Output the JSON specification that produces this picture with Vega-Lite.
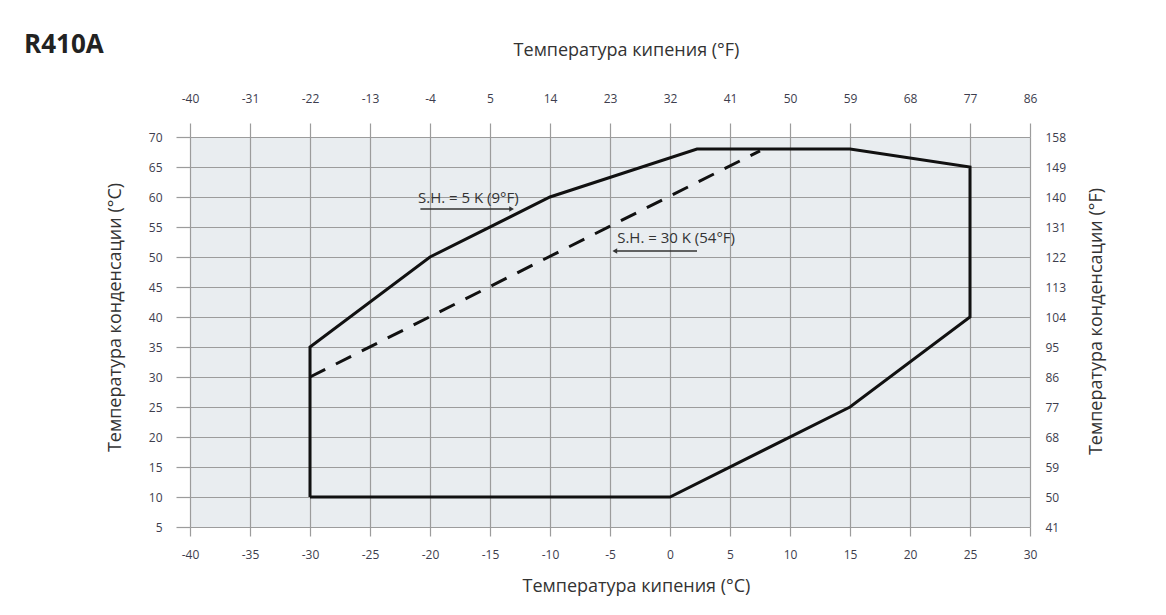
{
  "$schema": "https://vega.github.io/schema/vega-lite/v6.json",
  "width": 840,
  "height": 390,
  "autosize": {"type": "none"},
  "padding": {"left": 190, "top": 137, "right": 136, "bottom": 88},
  "background": "white",
  "title": {
    "text": "R410A",
    "anchor": "start",
    "frame": "group",
    "font": "Open Sans",
    "fontSize": 26,
    "fontWeight": "bold",
    "color": "#222222",
    "dx": -166,
    "dy": 21
  },
  "config": {
    "view": {"fill": "#e9edf0", "stroke": null},
    "axis": {
      "labelFont": "Open Sans",
      "labelFontSize": 12,
      "labelColor": "#3d3d4d",
      "titleFont": "Open Sans",
      "titleFontSize": 18,
      "titleFontWeight": "normal",
      "titleColor": "#333333",
      "domain": false,
      "gridColor": "#9c9c9c",
      "gridOpacity": 1,
      "gridWidth": 1.2,
      "tickColor": "#9c9c9c",
      "tickWidth": 1.2,
      "labelExpr": "'' + datum.value"
    }
  },
  "datasets": {
    "envelope": [
      {"ord": 1, "t": -30, "c": 10},
      {"ord": 2, "t": 0, "c": 10},
      {"ord": 3, "t": 15, "c": 25},
      {"ord": 4, "t": 25, "c": 40},
      {"ord": 5, "t": 25, "c": 65},
      {"ord": 6, "t": 15, "c": 68},
      {"ord": 7, "t": 2.25, "c": 68},
      {"ord": 8, "t": -10, "c": 60},
      {"ord": 9, "t": -20, "c": 50},
      {"ord": 10, "t": -30, "c": 35},
      {"ord": 11, "t": -30, "c": 10}
    ],
    "sh30": [
      {"ord": 1, "t": -30, "c": 30},
      {"ord": 2, "t": 7.5, "c": 67.7}
    ],
    "labels": [
      {"t": -21, "c": 59.8, "text": "S.H. = 5 K (9°F)"},
      {"t": -4.4, "c": 53.2, "text": "S.H. = 30 K (54°F)"}
    ],
    "arrows": [
      {"t": -20.8, "t2": -13.2, "c": 58, "head": -13.2, "shape": "triangle-right"},
      {"t": -4.6, "t2": 2.25, "c": 51, "head": -4.6, "shape": "triangle-left"}
    ],
    "fahrenheit": [
      {"tf": -40, "cf": 41},
      {"tf": 86, "cf": 158}
    ]
  },
  "layer": [
    {
      "layer": [
        {
          "data": {"name": "envelope"},
          "mark": {"type": "line", "color": "#111111", "strokeWidth": 3, "strokeJoin": "miter"},
          "encoding": {
            "x": {
              "field": "t", "type": "quantitative",
              "scale": {"domain": [-40, 30], "nice": false, "zero": false},
              "axis": {
                "orient": "bottom",
                "title": "Температура кипения (°C)",
                "values": [-40, -35, -30, -25, -20, -15, -10, -5, 0, 5, 10, 15, 20, 25, 30],
                "tickCount": 30,
                "tickSize": 9,
                "labelPadding": 13,
                "titlePadding": 17,
                "labelFlush": false,
                "labelOverlap": false,
                "titleX": 446
              }
            },
            "y": {
              "field": "c", "type": "quantitative",
              "scale": {"domain": [5, 70], "nice": false, "zero": false},
              "axis": {
                "orient": "left",
                "title": "Температура конденсации (°C)",
                "values": [5, 10, 15, 20, 25, 30, 35, 40, 45, 50, 55, 60, 65, 70],
                "tickCount": 30,
                "tickSize": 14,
                "labelPadding": 14,
                "titlePadding": 24,
                "labelFlush": false,
                "labelOverlap": false,
                "titleY": 180
              }
            },
            "order": {"field": "ord", "type": "quantitative"}
          }
        },
        {
          "data": {"name": "sh30"},
          "mark": {"type": "line", "color": "#111111", "strokeWidth": 3, "strokeDash": [17, 12]},
          "encoding": {
            "x": {"field": "t", "type": "quantitative"},
            "y": {"field": "c", "type": "quantitative"},
            "order": {"field": "ord", "type": "quantitative"}
          }
        },
        {
          "data": {"name": "labels"},
          "mark": {"type": "text", "align": "left", "baseline": "middle", "font": "Liberation Sans Narrow, Open Sans", "fontSize": 15, "color": "#333333"},
          "encoding": {
            "x": {"field": "t", "type": "quantitative"},
            "y": {"field": "c", "type": "quantitative"},
            "text": {"field": "text"}
          }
        },
        {
          "data": {"name": "arrows"},
          "mark": {"type": "rule", "color": "#333333", "strokeWidth": 1.3},
          "encoding": {
            "x": {"field": "t", "type": "quantitative"},
            "x2": {"field": "t2"},
            "y": {"field": "c", "type": "quantitative"}
          }
        },
        {
          "data": {"name": "arrows"},
          "mark": {"type": "point", "filled": true, "color": "#333333", "size": 30, "opacity": 1},
          "encoding": {
            "x": {"field": "head", "type": "quantitative"},
            "y": {"field": "c", "type": "quantitative"},
            "shape": {"field": "shape", "type": "nominal", "scale": null, "legend": null}
          }
        }
      ]
    },
    {
      "data": {"name": "fahrenheit"},
      "mark": {"type": "point", "opacity": 0},
      "encoding": {
        "x": {
          "field": "tf", "type": "quantitative",
          "scale": {"domain": [-40, 86], "nice": false, "zero": false},
          "axis": {
            "orient": "top",
            "title": "Температура кипения (°F)",
            "values": [-40, -31, -22, -13, -4, 5, 14, 23, 32, 41, 50, 59, 68, 77, 86],
            "tickCount": 30,
            "grid": false,
            "tickSize": 14,
            "labelPadding": 18,
            "titlePadding": 33,
            "labelFlush": false,
            "labelOverlap": false,
            "titleX": 436
          }
        },
        "y": {
          "field": "cf", "type": "quantitative",
          "scale": {"domain": [41, 158], "nice": false, "zero": false},
          "axis": {
            "orient": "right",
            "title": "Температура конденсации (°F)",
            "titleAngle": -90,
            "values": [41, 50, 59, 68, 77, 86, 95, 104, 113, 122, 131, 140, 149, 158],
            "tickCount": 30,
            "grid": false,
            "ticks": false,
            "labelPadding": 15,
            "titlePadding": 40,
            "labelFlush": false,
            "labelOverlap": false,
            "titleY": 184
          }
        }
      }
    }
  ],
  "resolve": {"scale": {"x": "independent", "y": "independent"}}
}
